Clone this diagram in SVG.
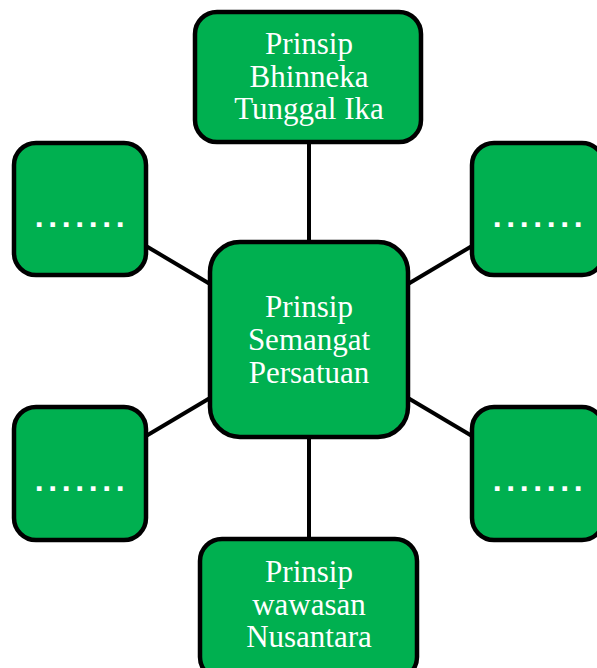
<svg xmlns="http://www.w3.org/2000/svg" width="597" height="668" viewBox="0 0 597 668">
<style>
.box{fill:#00B050;stroke:#000;stroke-width:4.5}
.t{font-family:"Liberation Serif","Times New Roman",serif;font-size:31px;fill:#fff;text-anchor:middle}
.d{font-family:"Liberation Sans",Arial,sans-serif;font-weight:bold;font-size:32px;fill:#fff;text-anchor:middle;letter-spacing:4.6px}
.c{stroke:#000;stroke-width:4;fill:none}
</style>
<g id="connectors">
<line class="c" x1="309" y1="141" x2="309" y2="242"/>
<line class="c" x1="309" y1="437" x2="309" y2="539"/>
<line class="c" x1="146" y1="246" x2="210" y2="284"/>
<line class="c" x1="146" y1="436" x2="210" y2="398"/>
<line class="c" x1="472" y1="246" x2="408" y2="284"/>
<line class="c" x1="472" y1="436" x2="408" y2="398"/>
</g>
<g id="top">
<rect class="box" x="195" y="12" width="226" height="130" rx="22"/>
<text class="t" x="309" y="54">Prinsip</text>
<text class="t" x="309" y="87">Bhinneka</text>
<text class="t" x="309" y="119">Tunggal Ika</text>
</g>
<g id="center">
<rect class="box" x="210" y="242" width="198" height="195" rx="30"/>
<text class="t" x="309" y="317">Prinsip</text>
<text class="t" x="309" y="350">Semangat</text>
<text class="t" x="309" y="383">Persatuan</text>
</g>
<g id="bottom">
<rect class="box" x="200" y="539" width="217" height="140" rx="22"/>
<text class="t" x="309" y="582">Prinsip</text>
<text class="t" x="309" y="615">wawasan</text>
<text class="t" x="309" y="647">Nusantara</text>
</g>
<g id="left-top">
<rect class="box" x="14" y="143" width="132" height="132" rx="22"/>
<text class="d" x="82" y="227">.......</text>
</g>
<g id="left-bottom">
<rect class="box" x="14" y="407" width="132" height="133" rx="22"/>
<text class="d" x="82" y="491">.......</text>
</g>
<g id="right-top">
<rect class="box" x="472" y="143" width="132" height="132" rx="22"/>
<text class="d" x="540" y="227">.......</text>
</g>
<g id="right-bottom">
<rect class="box" x="472" y="407" width="132" height="133" rx="22"/>
<text class="d" x="540" y="491">.......</text>
</g>
</svg>
